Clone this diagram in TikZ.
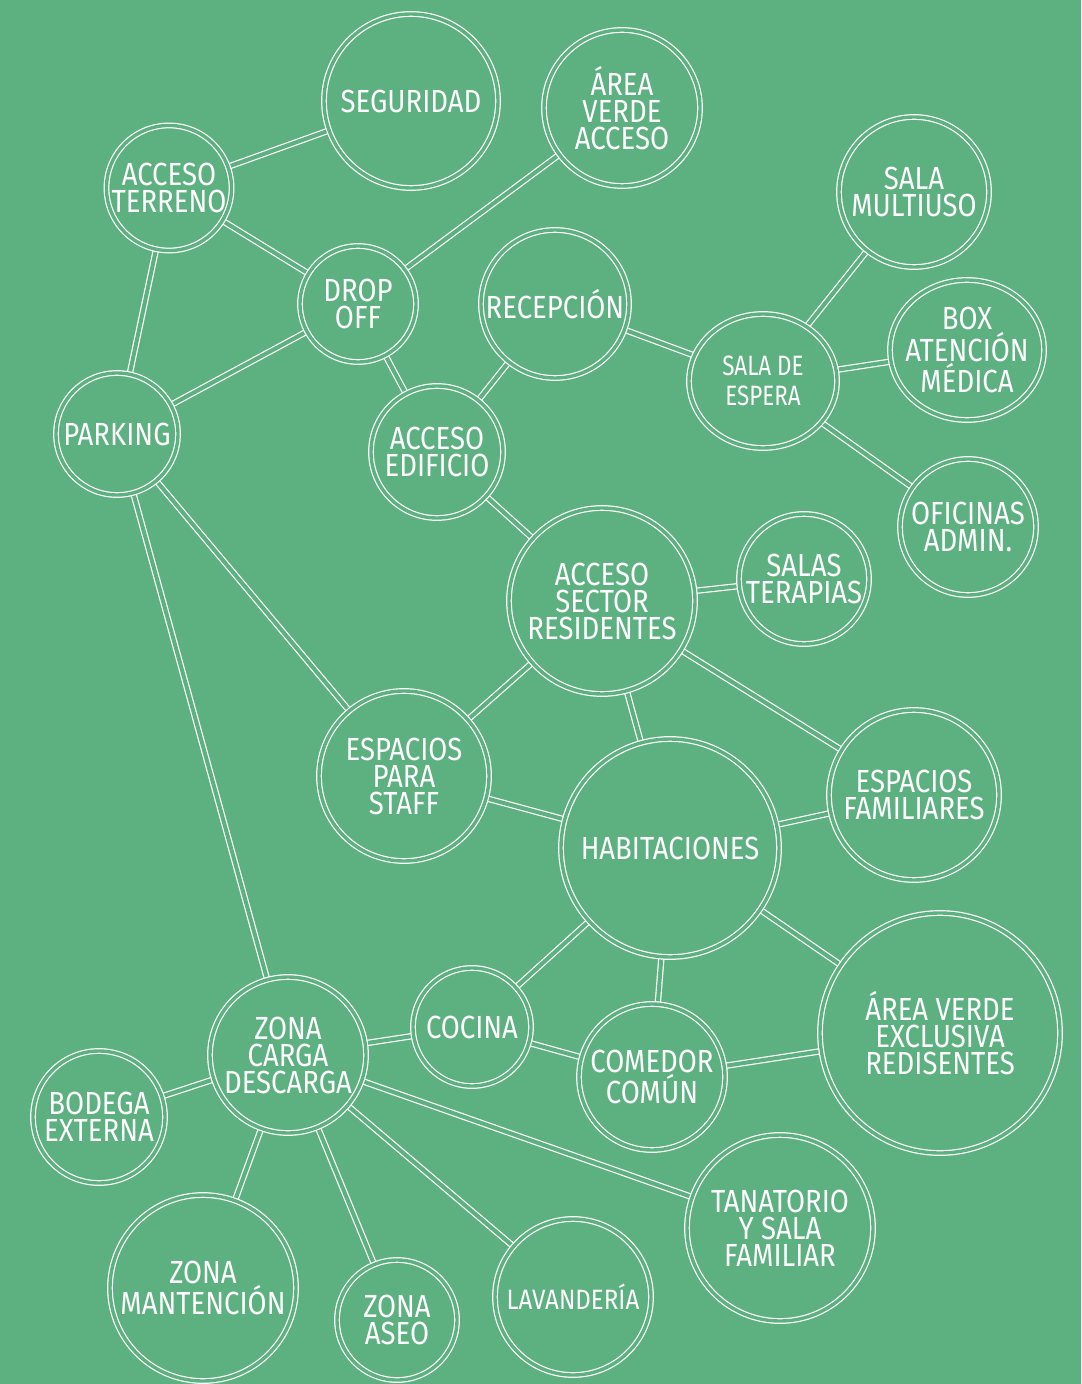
\documentclass[tikz,border=0pt]{standalone}
\usepackage{fontspec}
\setmainfont{Fira Sans}[FakeStretch=0.86]
\usetikzlibrary{shapes.geometric}
\definecolor{verde}{RGB}{93,177,128}
\pgfdeclarelayer{fondo}
\pgfdeclarelayer{lineas}
\pgfsetlayers{fondo,lineas,main}
\tikzset{
  espacio/.style={circle, draw=white, double=verde, double distance=1.7pt, line width=0.6pt,
    fill=verde, text=white, align=center, inner sep=0pt, minimum size=#1,
    font=\fontsize{16}{13.5}\selectfont},
  ovalo/.style={espacio=10pt, ellipse, inner sep=-12pt, minimum width=#1},
  enlace/.style={draw=white, double=verde, double distance=2pt, line width=0.6pt}
}
\begin{document}
\begin{tikzpicture}[x=0.5pt,y=-0.5pt]
  \begin{pgfonlayer}{fondo}
    \fill[verde] (0,0) rectangle (1081,1384); % fondo
  \end{pgfonlayer}
  \useasboundingbox (0,0) rectangle (1081,1384);
  % acceso
  \node[espacio=87pt] (seguridad) at (411,101) {SEGURIDAD};
  \node[espacio=78pt] (verdeacc) at (622,108) {ÁREA\\VERDE\\ACCESO};
  \node[espacio=62pt] (terreno) at (169,188) {ACCESO\\TERRENO};
  \node[espacio=58pt] (dropoff) at (358,304) {DROP\\OFF};
  \node[espacio=61pt] (parking) at (117,434) {PARKING};
  \node[espacio=66pt] (edificio) at (437,452) {ACCESO\\EDIFICIO};
  % recepcion y administracion
  \node[espacio=74pt] (recepcion) at (555,304) {RECEPCIÓN};
  \node[ovalo=74pt, minimum height=67pt, font=\fontsize{14}{15}\selectfont\addfontfeature{FakeStretch=0.8}]
    (espera) at (763,381) {SALA DE\\ESPERA};
  \node[espacio=75pt] (multiuso) at (914,192) {SALA\\MULTIUSO};
  \node[ovalo=77pt, minimum height=70pt] (box) at (967,350) {BOX\\ATENCIÓN\\MÉDICA};
  \node[espacio=68pt] (oficinas) at (968,527) {OFICINAS\\ADMIN.};
  % residentes
  \node[espacio=93pt] (sector) at (602,601) {ACCESO\\SECTOR\\RESIDENTES};
  \node[espacio=65pt] (terapias) at (804,579) {SALAS\\TERAPIAS};
  \node[espacio=85pt] (staff) at (404,776) {ESPACIOS\\PARA\\STAFF};
  \node[espacio=109pt] (habitaciones) at (670,848) {HABITACIONES};
  \node[espacio=85pt] (familiares) at (914,795) {ESPACIOS\\FAMILIARES};
  \node[espacio=59pt] (cocina) at (472,1027) {COCINA};
  \node[espacio=73pt] (comedor) at (652,1077) {COMEDOR\\COMÚN};
  \node[espacio=120pt] (verdeexc) at (940,1033) {ÁREA VERDE\\EXCLUSIVA\\REDISENTES};
  % servicios
  \node[espacio=78pt] (carga) at (288,1055) {ZONA\\CARGA\\DESCARGA};
  \node[espacio=66pt] (bodega) at (99,1117) {BODEGA\\EXTERNA};
  \node[espacio=93pt] (tanatorio) at (780,1228) {TANATORIO\\Y SALA\\FAMILIAR};
  \node[espacio=93pt] (mantencion) at (203,1288) {ZONA\\MANTENCIÓN};
  \node[espacio=60pt] (aseo) at (397,1320) {ZONA\\ASEO};
  \node[espacio=78pt, font=\fontsize{14}{15}\selectfont] (lavanderia) at (573,1297) {LAVANDERÍA};
  \begin{pgfonlayer}{lineas}
    \draw[enlace] (terreno) -- (seguridad);
    \draw[enlace] (terreno) -- (dropoff);
    \draw[enlace] (terreno) -- (parking);
    \draw[enlace] (dropoff) -- (verdeacc);
    \draw[enlace] (dropoff) -- (parking);
    \draw[enlace] (dropoff) -- (edificio);
    \draw[enlace] (edificio) -- (recepcion);
    \draw[enlace] (recepcion) -- (espera);
    \draw[enlace] (espera) -- (multiuso);
    \draw[enlace] (espera) -- (box);
    \draw[enlace] (espera) -- (oficinas);
    \draw[enlace] (edificio) -- (sector);
    \draw[enlace] (sector) -- (terapias);
    \draw[enlace] (sector) -- (familiares);
    \draw[enlace] (sector) -- (habitaciones);
    \draw[enlace] (sector) -- (staff);
    \draw[enlace] (parking) -- (staff);
    \draw[enlace] (parking) -- (carga);
    \draw[enlace] (staff) -- (habitaciones);
    \draw[enlace] (habitaciones) -- (familiares);
    \draw[enlace] (habitaciones) -- (cocina);
    \draw[enlace] (habitaciones) -- (comedor);
    \draw[enlace] (habitaciones) -- (verdeexc);
    \draw[enlace] (cocina) -- (carga);
    \draw[enlace] (cocina) -- (comedor);
    \draw[enlace] (comedor) -- (verdeexc);
    \draw[enlace] (carga) -- (bodega);
    \draw[enlace] (carga) -- (mantencion);
    \draw[enlace] (carga) -- (aseo);
    \draw[enlace] (carga) -- (lavanderia);
    \draw[enlace] (carga) -- (tanatorio);
  \end{pgfonlayer}
\end{tikzpicture}
\end{document}
